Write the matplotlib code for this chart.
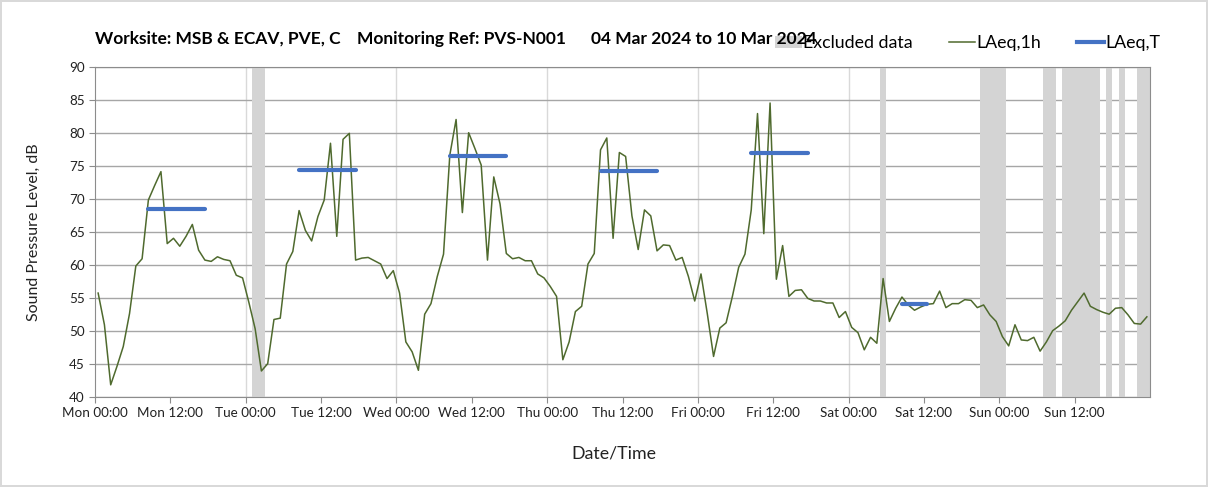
import numpy as np
import matplotlib.pyplot as plt
from matplotlib.patches import Patch
from matplotlib.lines import Line2D

# hourly LAeq,1h values, Mon 04 Mar 00:00 to Sun 10 Mar 23:00
laeq_1h = [
    55.7, 50.9, 41.8, 44.6, 47.6, 52.6, 59.8, 60.9, 69.8, 72.0, 74.1, 63.2,
    64.0, 62.8, 64.3, 66.1, 62.2, 60.7, 60.5, 61.2, 60.8, 60.6, 58.4, 58.0,
    54.3, 50.3, 43.9, 45.0, 51.7, 51.9, 60.1, 62.0, 68.2, 65.2, 63.6, 67.3,
    69.8, 78.4, 64.3, 79.0, 79.9, 60.7, 61.0, 61.1, 60.6, 60.1, 57.9, 59.1,
    55.7, 48.3, 46.8, 44.0, 52.5, 54.1, 58.2, 61.6, 76.6, 82.0, 67.9, 80.0,
    77.6, 75.1, 60.7, 73.3, 69.2, 61.7, 60.9, 61.1, 60.6, 60.6, 58.6, 58.0,
    56.7, 55.2, 45.6, 48.3, 52.9, 53.7, 60.1, 61.7, 77.4, 79.2, 64.0, 77.0,
    76.4, 67.4, 62.3, 68.3, 67.4, 62.1, 63.0, 62.9, 60.7, 61.1, 58.2, 54.5,
    58.6, 52.6, 46.1, 50.4, 51.2, 55.2, 59.6, 61.6, 68.3, 82.9, 64.7, 84.5,
    57.8, 62.9, 55.2, 56.1, 56.2, 54.9, 54.5, 54.5, 54.2, 54.2, 52.0, 52.9,
    50.5, 49.7, 47.1, 49.0, 48.1, 57.9, 51.4, 53.4, 55.1, 53.9, 53.1, 53.6,
    54.0, 54.1, 56.0, 53.5, 54.1, 54.1, 54.7, 54.6, 53.5, 53.9, 52.4, 51.4,
    49.1, 47.7, 50.9, 48.6, 48.5, 49.0, 46.9, 48.3, 50.0, 50.7, 51.5, 53.1,
    54.4, 55.7, 53.7, 53.2, 52.8, 52.5, 53.4, 53.5, 52.4, 51.1, 51.0, 52.1,
]

# LAeq,T for the daytime periods (first hour, last hour, level)
laeq_t_start = [8, 32, 56, 80, 104, 128]
laeq_t_end = [17, 41, 65, 89, 113, 132]
laeq_t = [68.4, 74.4, 76.4, 74.2, 77.0, 54.0]

# excluded data periods (hours from start)
excl_start = [25, 125, 141, 151, 154, 161, 163, 166]
excl_end = [27, 126, 145, 153, 160, 162, 164, 168]

days = ['Mon', 'Tue', 'Wed', 'Thu', 'Fri', 'Sat', 'Sun']

font = 'Lato'
green = '#4f6a2e'
blue = '#4472c4'
shade = '#d4d4d4'

hours = np.arange(len(laeq_1h)) + 0.5

fig = plt.figure(figsize=(12.08, 4.87), dpi=100)
fig.patch.set_edgecolor('#d9d9d9')
fig.patch.set_linewidth(1.5)
ax = fig.add_axes([95 / 1208, 1 - 396.7 / 487, 1055 / 1208, 330 / 487])

for s, e in zip(excl_start, excl_end):
    ax.axvspan(s, e, color=shade, lw=0, zorder=1)

ax.set_ylim(40, 90)
ax.set_xlim(0, 168)
ax.set_yticks(np.arange(40, 91, 5))
ax.yaxis.grid(True, color='#a6a6a6', lw=1)
for d in range(1, 7):
    ax.axvline(d * 24, color='#d9d9d9', lw=1, zorder=0.5)
ax.set_axisbelow(True)

ax.plot(hours, laeq_1h, color=green, lw=1.1, zorder=3)
for s, e, v in zip(laeq_t_start, laeq_t_end, laeq_t):
    ax.plot([s + 0.5, e + 0.5], [v, v], color=blue, lw=3, solid_capstyle='round', zorder=4)

ticks = np.arange(0, 168, 12)
ax.set_xticks(ticks)
ax.set_xticklabels([f'{days[t // 24]} {t % 24:02d}:00' for t in ticks])
for sp in ax.spines.values():
    sp.set_color('#8c8c8c')
ax.tick_params(axis='both', colors='#8c8c8c', labelcolor='#222222', length=4, labelsize=9.7)
for lab in ax.get_xticklabels() + ax.get_yticklabels():
    lab.set_family(font)

ax.set_ylabel('Sound Pressure Level, dB', fontsize=11.5, family=font, color='#222222', labelpad=20)
ax.set_xlabel('Date/Time', fontsize=12.8, family=font, color='#222222', labelpad=19)
ax.xaxis.label.set_x(0.492)

ty = 1 - 39 / 487
title_kw = dict(fontsize=12.5, weight='bold', family=font, va='center', zorder=10)
fig.text(95 / 1208, ty, 'Worksite: MSB & ECAV, PVE, C', **title_kw)
fig.text(357 / 1208, ty, 'Monitoring Ref: PVS-N001', **title_kw)
fig.text(591 / 1208, ty, '04 Mar 2024 to 10 Mar 2024', **title_kw)

handles = [Patch(color=shade, lw=0),
           Line2D([], [], color=green, lw=1.1),
           Line2D([], [], color=blue, lw=3)]
leg = fig.legend(handles, ['Excluded data', 'LAeq,1h', 'LAeq,T'], ncol=3, frameon=False,
                 loc='center left', bbox_to_anchor=(775 / 1208, 1 - 43 / 487),
                 prop={'family': font, 'size': 12.8}, handlelength=1.5, handletextpad=0.05,
                 columnspacing=2.05, borderpad=0, borderaxespad=0)
leg.set_zorder(1)

fig.savefig('out.png', dpi=100)
